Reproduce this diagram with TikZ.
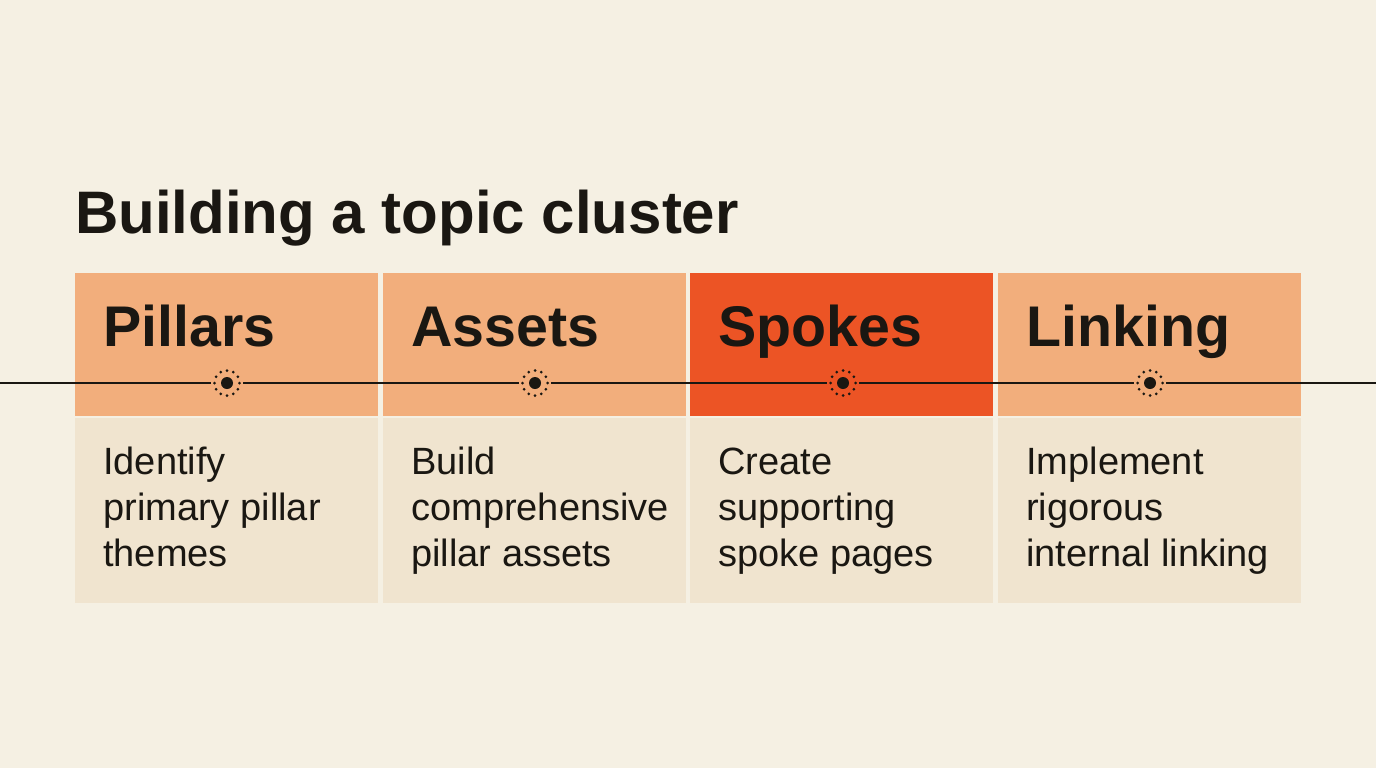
\documentclass[tikz,border=0pt]{standalone}
\usepackage{fontspec}
\setmainfont{Liberation Sans}
\usetikzlibrary{calc}
\definecolor{bg}{HTML}{F5F0E3}
\definecolor{band}{HTML}{F2AE7C}
\definecolor{hot}{HTML}{EC5425}
\definecolor{low}{HTML}{F0E4CF}
\definecolor{ink}{HTML}{1A1712}
\begin{document}
\begin{tikzpicture}[x=0.75pt,y=-0.75pt,
  head/.style={anchor=base west,inner sep=0,font=\fontsize{43}{46}\selectfont\bfseries,text=ink},
  body/.style={anchor=base west,inner sep=0,align=left,font=\fontsize{28.5}{34.5}\selectfont,text=ink}]
\fill[bg] (0,0) rectangle (1376,768);
\useasboundingbox (0,0) rectangle (1376,768);
\node[anchor=base west,inner sep=0,font=\fontsize{45}{48}\selectfont\bfseries,text=ink] (title) at (75,233) {Building a topic cluster};
\foreach \i/\x/\c/\h/\t in {1/75/band/Pillars/{Identify\\primary pillar\\themes},
  2/383/band/Assets/{Build\\comprehensive\\pillar assets},
  3/690/hot/Spokes/{Create\\supporting\\spoke pages},
  4/998/band/Linking/{Implement\\rigorous\\internal linking}}{
  \fill[\c] (\x,273) rectangle ++(303,143);
  \fill[low] (\x,418) rectangle ++(303,185);
  \node[head] (h\i) at (\x+28,346) {\h};
  \node[body] (b\i) at (\x+28,566) {\t};
}
\draw[ink,line width=1.5pt] (0,383) -- (1376,383);
\foreach \i/\x/\c in {1/227/band,2/535/band,3/843/hot,4/1150/band}{
  \fill[\c] (\x,383) circle (16);
  \fill[ink] (\x,383) circle (6) coordinate (m\i);
  \foreach \a in {0,30,...,330} \fill[ink] ($(\x,383)+(\a:12.5)$) circle (1.5);
}
\end{tikzpicture}
\end{document}
